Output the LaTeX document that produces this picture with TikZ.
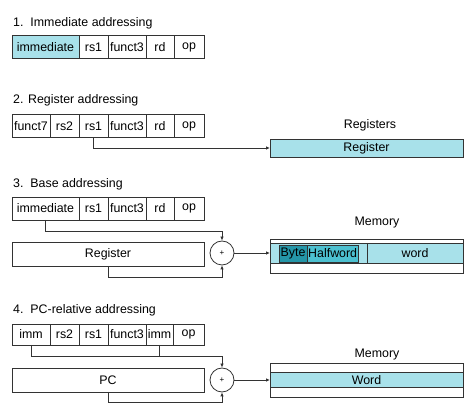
\documentclass[tikz,border=0pt]{standalone}
\usepackage{fontspec}
\setmainfont{Liberation Sans}
\usetikzlibrary{positioning,arrows.meta}

\definecolor{regcyan}{HTML}{A8E1EA}
\definecolor{halfcyan}{HTML}{4CC0D0}
\definecolor{bytecyan}{HTML}{2496A8}
\definecolor{edge}{HTML}{333333}

\tikzset{
	field/.style={draw=edge, line width=0.8pt, minimum height=23pt, inner sep=0pt, outer sep=0pt},
	cell/.style={draw=edge, line width=0.8pt, inner sep=0pt, outer sep=0pt},
	adder/.style={circle, draw=edge, line width=0.8pt, minimum size=24pt, inner sep=0pt, font=\fontsize{8}{9}\selectfont},
	arr/.style={draw=edge, line width=0.8pt, -{Latex[length=4pt,width=3.5pt]}},
	wire/.style={draw=edge, line width=0.8pt},
	title/.style={anchor=west, inner sep=0pt}
}

\begin{document}
\begin{tikzpicture}[x=1pt, y=-1pt, font=\fontsize{12.4}{14}\selectfont]
		
		\useasboundingbox (0,0) rectangle (474,411);
		
		% 1. immediate
		\node[title] (t1) at (13,23) {1.\ \ Immediate addressing};
		\node[field, minimum width=67pt, fill=regcyan, anchor=west] (imma) at (12,47) {immediate};
		\node[field, minimum width=29pt, right=0pt of imma] (rs1a) {rs1};
		\node[field, minimum width=38pt, right=0pt of rs1a] (f3a) {funct3};
		\node[field, minimum width=28pt, right=0pt of f3a] (rda) {rd};
		\node[field, minimum width=30pt, right=0pt of rda] (opa) {op};
		
		% 2. register
		\node[title] (t2) at (13,100) {2. Register addressing};
		\node[field, minimum width=38pt, anchor=west] (f7b) at (12,126) {funct7};
		\node[field, minimum width=29pt, right=0pt of f7b] (rs2b) {rs2};
		\node[field, minimum width=29pt, right=0pt of rs2b] (rs1b) {rs1};
		\node[field, minimum width=38pt, right=0pt of rs1b] (f3b) {funct3};
		\node[field, minimum width=28pt, right=0pt of f3b] (rdb) {rd};
		\node[field, minimum width=30pt, right=0pt of rdb] (opb) {op};
		
		\node (regs) at (370,125) {Registers};
		\node[cell, fill=regcyan, minimum width=193pt, minimum height=18pt, anchor=west] (regb) at (270,148) {Register};
		\draw[arr] (rs1b.south) |- (regb.west);
		
		% 3. base
		\node[title] (t3) at (13,184) {3.\ \ Base addressing};
		\node[field, minimum width=67pt, anchor=west] (immc) at (12,208.5) {immediate};
		\node[field, minimum width=29pt, right=0pt of immc] (rs1c) {rs1};
		\node[field, minimum width=38pt, right=0pt of rs1c] (f3c) {funct3};
		\node[field, minimum width=28pt, right=0pt of f3c] (rdc) {rd};
		\node[field, minimum width=30pt, right=0pt of rdc] (opc) {op};
		
		\node[field, minimum width=192pt, minimum height=24pt, anchor=west] (basec) at (12,254) {Register};
		\node[adder] (addc) at (222,253) {+};
		
		\node (memc) at (377,223) {Memory};
		\node[cell, minimum width=193pt, minimum height=34pt, anchor=west] (memboxc) at (270,256) {};
		\node[cell, fill=regcyan, minimum width=193pt, minimum height=20pt, anchor=west] (bandc) at (270,253) {};
		\draw[wire] (367,243) -- (367,263);
		\node (wordc) at (415,253) {word};
		\node[cell, fill=halfcyan, minimum width=79pt, minimum height=17pt, anchor=west] (halfc) at (279,253.5) {};
		\node[cell, fill=bytecyan, minimum width=28pt, minimum height=17pt, anchor=west] (bytec) at (279,253.5) {Byte};
		\node[right=1pt of bytec, inner sep=0pt] (hwc) {Halfword};
		
		\draw[arr] (immc.south) -- ++(0,11) -| (addc.north);
		\draw[arr] (basec.south) -- ++(0,11) -| (addc.south);
		\draw[arr] (addc.east) -- (bandc.west);
		
		% 4. pc-relative
		\node[title] (t4) at (13,310) {4.\ \ PC-relative addressing};
		\node[field, minimum width=38pt, minimum height=21pt, anchor=west] (immd) at (12,334.5) {imm};
		\node[field, minimum width=29pt, minimum height=21pt, right=0pt of immd] (rs2d) {rs2};
		\node[field, minimum width=29pt, minimum height=21pt, right=0pt of rs2d] (rs1d) {rs1};
		\node[field, minimum width=38pt, minimum height=21pt, right=0pt of rs1d] (f3d) {funct3};
		\node[field, minimum width=27pt, minimum height=21pt, right=0pt of f3d] (imme) {imm};
		\node[field, minimum width=31pt, minimum height=21pt, right=0pt of imme] (opd) {op};
		
		\node[field, minimum width=192pt, minimum height=24pt, anchor=west] (pcd) at (12,380) {PC};
		\node[adder] (addd) at (222,380) {+};
		
		\node (memd) at (377,355) {Memory};
		\node[cell, minimum width=193pt, minimum height=34pt, anchor=west] (memboxd) at (270,380) {};
		\node[cell, fill=regcyan, minimum width=193pt, minimum height=15pt, anchor=west] (wordd) at (270,380) {Word};
		
		\draw[arr] (immd.south) -- ++(0,11) -| (addd.north);
		\draw[wire] (imme.south) -- ++(0,11);
		\draw[arr] (pcd.south) -- ++(0,10) -| (addd.south);
		\draw[arr] (addd.east) -- (wordd.west);
		
	\end{tikzpicture}
\end{document}
